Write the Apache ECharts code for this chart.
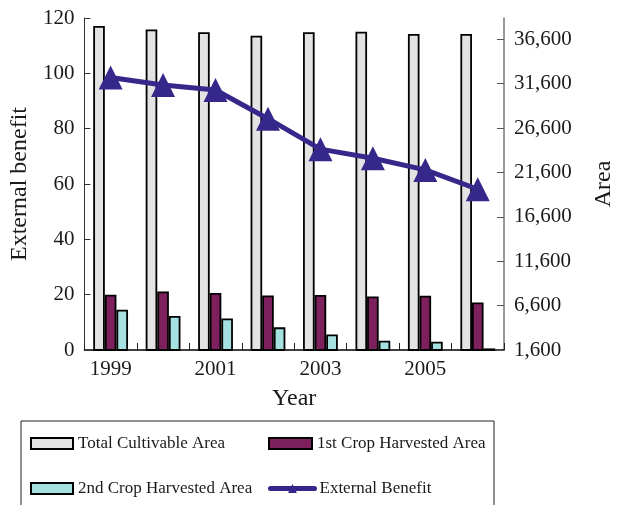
<!DOCTYPE html>
<html>
<head>
<meta charset="utf-8">
<script src="https://cdn.jsdelivr.net/npm/echarts@6/dist/echarts.min.js"></script>
<style>
  html, body { margin: 0; padding: 0; background: #fff; }
  #chart { width: 624px; height: 505px; }
</style>
</head>
<body>
<div id="chart"></div>
<script>
// Years on the category axis
const years = ['1999', '2000', '2001', '2002', '2003', '2004', '2005', '2006'];

// Areas (right axis)
const totalCultivableArea = [38100, 37700, 37400, 37000, 37400, 37450, 37200, 37200];
const firstCropHarvestedArea = [7830, 8200, 8020, 7750, 7800, 7640, 7720, 6960];
const secondCropHarvestedArea = [6140, 5430, 5160, 4150, 3360, 2650, 2540, 1780];

// External benefit (left axis)
const externalBenefit = [98.5, 95.8, 94.0, 83.6, 72.6, 69.3, 65.1, 58.1];

// Tick labels of the right axis
const areaTicks = [1600, 6600, 11600, 16600, 21600, 26600, 31600, 36600];

const serif = 'Liberation Serif, Times New Roman, serif';
const ink = '#1a1a1a';

const chart = echarts.init(document.getElementById('chart'), null, { renderer: 'canvas' });

const legendBase = {
  orient: 'horizontal',
  padding: 0,
  itemHeight: 11,
  textStyle: { fontFamily: serif, fontSize: 17, color: ink },
  selectedMode: false
};

chart.setOption({
  animation: false,
  backgroundColor: '#fff',
  grid: { left: 84, right: 110, top: 18, bottom: 155, containLabel: false },
  xAxis: {
    type: 'category',
    data: years,
    boundaryGap: true,
    name: 'Year',
    nameLocation: 'middle',
    nameGap: 37,
    nameTextStyle: { fontFamily: serif, fontSize: 24, color: ink },
    axisLine: { lineStyle: { color: '#000', width: 1.5 } },
    axisTick: { show: true, inside: true, length: 7, interval: 0, lineStyle: { color: '#222', width: 1 } },
    axisLabel: { interval: 1, margin: 9, fontFamily: serif, fontSize: 21, color: ink }
  },
  yAxis: [
    {
      type: 'value',
      min: 0,
      max: 120,
      interval: 20,
      name: 'External benefit',
      nameLocation: 'middle',
      nameRotate: 90,
      nameGap: 51,
      nameTextStyle: { fontFamily: serif, fontSize: 24, color: ink },
      axisLine: { show: true, lineStyle: { color: '#333', width: 1 } },
      axisTick: { show: true, inside: true, length: 6, lineStyle: { color: '#333' } },
      axisLabel: { margin: 10, fontFamily: serif, fontSize: 21, color: ink },
      splitLine: { show: false }
    },
    {
      type: 'value',
      position: 'right',
      min: 1600,
      max: 39000,
      name: 'Area',
      nameLocation: 'middle',
      nameRotate: 90,
      nameGap: 88,
      nameTextStyle: { fontFamily: serif, fontSize: 24, color: ink },
      axisLine: { show: true, lineStyle: { color: '#777', width: 1.5 } },
      axisTick: { show: true, inside: true, length: 7, customValues: areaTicks, lineStyle: { color: '#555' } },
      axisLabel: {
        margin: 10,
        customValues: areaTicks,
        fontFamily: serif,
        fontSize: 21,
        color: ink,
        formatter: v => Number(v).toLocaleString('en-US')
      },
      splitLine: { show: false }
    }
  ],
  legend: [
    Object.assign({}, legendBase, { left: 30, top: 435, itemWidth: 42, icon: 'rect', data: ['Total Cultivable Area'] }),
    Object.assign({}, legendBase, { left: 268, top: 435, itemWidth: 43, icon: 'rect', data: ['1st Crop Harvested Area'] }),
    Object.assign({}, legendBase, { left: 30, top: 480, itemWidth: 42, icon: 'rect', data: ['2nd Crop Harvested Area'] }),
    Object.assign({}, legendBase, {
      left: 268, top: 480, itemWidth: 44,
      lineStyle: { width: 5, cap: 'round' },
      data: ['External Benefit']
    })
  ],
  graphic: [
    {
      type: 'rect',
      silent: true,
      shape: { x: 21, y: 421, width: 473, height: 120 },
      style: { fill: 'none', stroke: '#222', lineWidth: 1 },
      z: -1
    }
  ],
  series: [
    {
      name: 'Total Cultivable Area',
      type: 'bar',
      yAxisIndex: 1,
      data: totalCultivableArea,
      barWidth: 11.6,
      barGap: '0%',
      itemStyle: { color: '#e3e3e3', borderColor: '#000', borderWidth: 1.8 }
    },
    {
      name: '1st Crop Harvested Area',
      type: 'bar',
      yAxisIndex: 1,
      data: firstCropHarvestedArea,
      barWidth: 11.6,
      barGap: '0%',
      itemStyle: { color: '#7e1f5e', borderColor: '#000', borderWidth: 1.8 }
    },
    {
      name: '2nd Crop Harvested Area',
      type: 'bar',
      yAxisIndex: 1,
      data: secondCropHarvestedArea,
      barWidth: 11.6,
      barGap: '0%',
      itemStyle: { color: '#a5e1e0', borderColor: '#000', borderWidth: 1.8 }
    },
    {
      name: 'External Benefit',
      type: 'line',
      yAxisIndex: 0,
      data: externalBenefit,
      z: 5,
      symbol: 'triangle',
      symbolSize: 24,
      lineStyle: { color: '#35288a', width: 5, cap: 'round' },
      itemStyle: { color: '#35288a' }
    }
  ]
});
</script>
</body>
</html>
